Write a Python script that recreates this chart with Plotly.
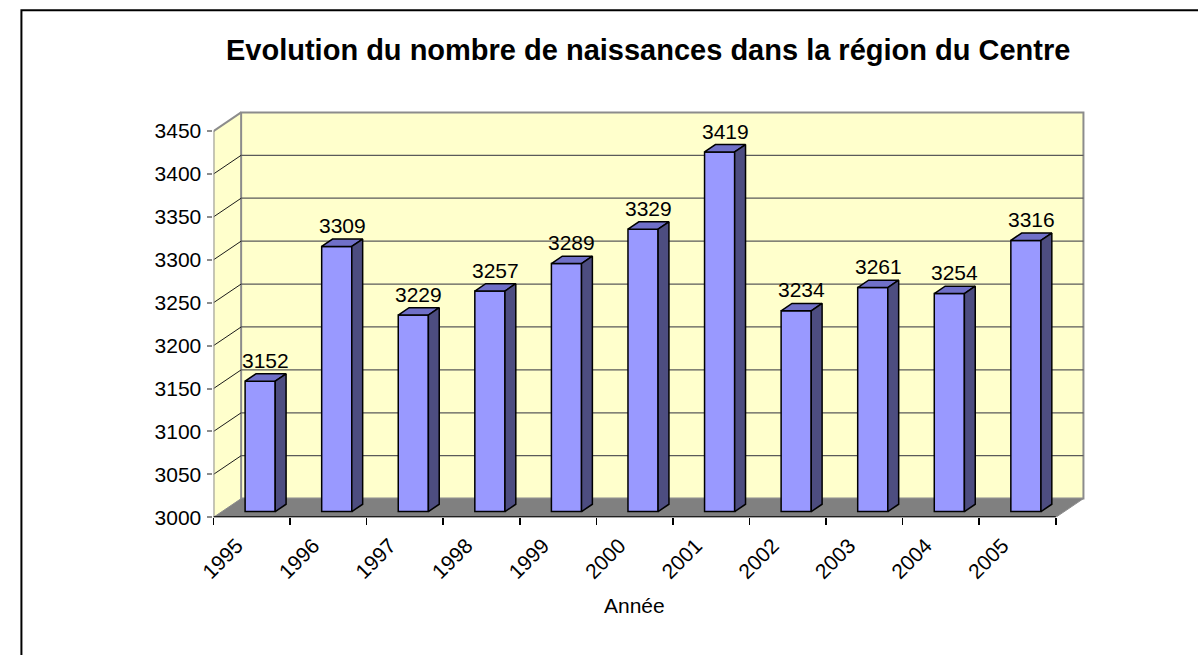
import plotly.graph_objects as go

# ---- data ----
years = ["1995", "1996", "1997", "1998", "1999", "2000", "2001", "2002", "2003", "2004", "2005"]
births = [3152, 3309, 3229, 3257, 3289, 3329, 3419, 3234, 3261, 3254, 3316]
y_ticks = [3000, 3050, 3100, 3150, 3200, 3250, 3300, 3350, 3400, 3450]
title_text = "Evolution du nombre de naissances dans la région du Centre"
x_title = "Année"

# ---- geometry (pixel scale of the front plane) ----
W, H = 1198, 666
PX_X = 77.545        # px per category
PX_Y = 0.8727        # px per value unit
X0_PX, Y0_PX = 201, 526   # pixel of (0, 3000)
YMIN, YMAX = y_ticks[0], y_ticks[-1]
N = len(years)

X_RIGHT_PX, Y_TOP_PX = 1094, 104
xrange_ = [0, (X_RIGHT_PX - X0_PX) / PX_X]
yrange_ = [YMIN, YMIN + (Y0_PX - Y_TOP_PX) / PX_Y]

WDX, WDY = 28 / PX_X, 19 / PX_Y      # wall depth
FDX, FDY = 8.5 / PX_X, 5.8 / PX_Y    # bar front-face depth
BDX, BDY = 11 / PX_X, 7.5 / PX_Y     # bar depth
BW = 30.5 / PX_X                     # bar width

FONT = "Arial, Liberation Sans, sans-serif"
WALL = "#FFFFCC"
FLOOR = "#808080"
FRONT = "#9999FF"
TOP = "#7070C8"
SIDE = "#4D4D80"
FS = 21

fig = go.Figure()

# front faces of the bars
centers = [i + 0.5 + FDX for i in range(N)]
base = YMIN + FDY
fig.add_trace(go.Bar(
    x=centers, y=[v - YMIN for v in births], base=base, width=BW,
    marker=dict(color=FRONT, line=dict(color="black", width=1.5)),
    hoverinfo="skip", showlegend=False))

# top and side faces
tx, ty, sx, sy = [], [], [], []
for c, v in zip(centers, births):
    xl, xr, t = c - BW / 2, c + BW / 2, v + FDY
    tx += [xl, xr, xr + BDX, xl + BDX, xl, None]
    ty += [t, t, t + BDY, t + BDY, t, None]
    sx += [xr, xr, xr + BDX, xr + BDX, xr, None]
    sy += [base, t, t + BDY, base + BDY, base, None]
fig.add_trace(go.Scatter(x=tx, y=ty, mode="lines", fill="toself", fillcolor=TOP,
                         line=dict(color="black", width=1.5), hoverinfo="skip", showlegend=False))
fig.add_trace(go.Scatter(x=sx, y=sy, mode="lines", fill="toself", fillcolor=SIDE,
                         line=dict(color="black", width=1.5), hoverinfo="skip", showlegend=False))

# invisible trace carrying the category label axis
fig.add_trace(go.Scatter(x=[i + 0.5 for i in range(N)], y=[YMIN] * N, xaxis="x2",
                         mode="markers", marker=dict(opacity=0), hoverinfo="skip", showlegend=False))

shapes = []
# side wall
shapes.append(dict(type="path", layer="below", xref="x", yref="y",
                   path=f"M 0,{YMIN} L {WDX},{YMIN+WDY} L {WDX},{YMAX+WDY} L 0,{YMAX} Z",
                   fillcolor=WALL, line=dict(width=0)))
# back wall
shapes.append(dict(type="rect", layer="below", xref="x", yref="y",
                   x0=WDX, y0=YMIN + WDY, x1=N + WDX, y1=YMAX + WDY,
                   fillcolor=WALL, line=dict(color="#8C8C8C", width=2)))
# floor
shapes.append(dict(type="path", layer="below", xref="x", yref="y",
                   path=f"M 0,{YMIN} L {N},{YMIN} L {N+WDX},{YMIN+WDY} L {WDX},{YMIN+WDY} Z",
                   fillcolor=FLOOR, line=dict(color="#8C8C8C", width=1)))
# gridlines
for v in y_ticks[1:-1]:
    shapes.append(dict(type="line", layer="below", xref="x", yref="y",
                       x0=WDX, y0=v + WDY, x1=N + WDX, y1=v + WDY,
                       line=dict(color="#5A5A5A", width=1.3)))
    shapes.append(dict(type="line", layer="below", xref="x", yref="y",
                       x0=0, y0=v, x1=WDX, y1=v + WDY,
                       line=dict(color="#1A1A1A", width=1)))
# side wall top edge and front axes
shapes.append(dict(type="line", layer="below", xref="x", yref="y",
                   x0=0, y0=YMAX, x1=WDX, y1=YMAX + WDY, line=dict(color="#8C8C8C", width=2)))
shapes.append(dict(type="line", layer="below", xref="x", yref="y",
                   x0=0, y0=YMIN, x1=0, y1=YMAX, line=dict(color="#8C8C8C", width=2)))
shapes.append(dict(type="line", layer="below", xref="x", yref="y",
                   x0=0, y0=YMIN, x1=N, y1=YMIN, line=dict(color="black", width=2)))
# outer border (cropped at right and bottom in the original)
shapes.append(dict(type="path", xref="paper", yref="paper",
                   path=f"M {6.5/W},0 L {6.5/W},{(H-10.5)/H} L 1,{(H-10.5)/H}",
                   line=dict(color="black", width=2)))

annotations = []
for c, v in zip(centers, births):
    annotations.append(dict(x=c + BDX / 2, y=v + FDY + BDY, xref="x", yref="y",
                            text=str(v), showarrow=False, yanchor="bottom", yshift=0,
                            font=dict(family=FONT, size=FS, color="black")))
annotations.append(dict(x=N / 2, y=(H - 616) / H, xref="x", yref="paper", text=x_title,
                        showarrow=False, yanchor="middle",
                        font=dict(family=FONT, size=FS, color="black")))
annotations.append(dict(x=641.5 / W, y=(H - 51) / H, xref="paper", yref="paper",
                        text=f"<b>{title_text}</b>", showarrow=False, yanchor="middle",
                        font=dict(family=FONT, size=29, color="black")))

xdom = [X0_PX / W, X_RIGHT_PX / W]
fig.update_layout(
    width=W, height=H, margin=dict(l=0, r=0, t=0, b=0),
    paper_bgcolor="white", plot_bgcolor="rgba(0,0,0,0)",
    showlegend=False, shapes=shapes, annotations=annotations,
    xaxis=dict(domain=xdom, range=xrange_, tickmode="array",
               tickvals=list(range(N + 1)), ticktext=[""] * (N + 1),
               ticks="outside", ticklen=7, tickwidth=1.5, tickcolor="black",
               showgrid=False, zeroline=False, showline=False, fixedrange=True),
    xaxis2=dict(domain=xdom, range=xrange_, overlaying="x", anchor="y", side="bottom",
                tickmode="array", tickvals=[i + 0.5 for i in range(N)], ticktext=years,
                tickangle=-45, ticks="", ticklabelstandoff=11, ticklabelshift=-15,
                tickfont=dict(family=FONT, size=FS, color="black"),
                showgrid=False, zeroline=False, showline=False),
    yaxis=dict(domain=[(H - Y0_PX) / H, (H - Y_TOP_PX) / H], range=yrange_,
               tickmode="array", tickvals=y_ticks, ticks="outside", ticklen=5,
               tickwidth=2, tickcolor="#8C8C8C", ticklabelstandoff=2,
               tickfont=dict(family=FONT, size=FS, color="black"),
               showgrid=False, zeroline=False, showline=False),
)

fig.write_html(
    "out.html",
    config={"displayModeBar": False, "staticPlot": True},
    post_script=(
        "document.documentElement.style.margin='0';"
        "document.documentElement.style.overflow='hidden';"
        "document.body.style.margin='0';document.body.style.overflow='hidden';"
    ),
)
